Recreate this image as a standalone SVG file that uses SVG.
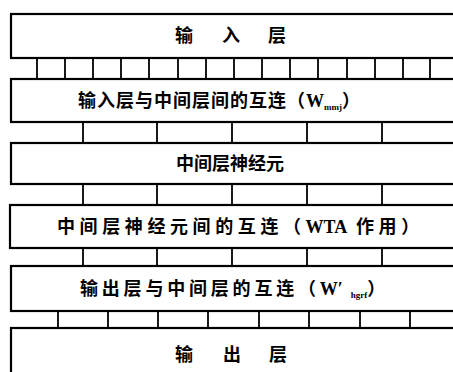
<svg xmlns="http://www.w3.org/2000/svg" width="453" height="372" viewBox="0 0 453 372">
<style>
.box{fill:#fff;stroke:#000;stroke-width:2.2}
.tick{stroke:#000;stroke-width:1.8}
.t{font-family:"Noto Sans CJK SC","Liberation Serif",sans-serif;font-weight:700;font-size:18px;fill:#000}
.w{font-family:"Liberation Serif",serif;font-weight:700;letter-spacing:0}
.sub{font-size:9px}
</style>
<rect width="453" height="372" fill="#fff"/>
<g id="connectors">
<g id="c12">
<line class="tick" x1="37" y1="58" x2="37" y2="79"/><line class="tick" x1="65" y1="58" x2="65" y2="79"/>
<line class="tick" x1="93" y1="58" x2="93" y2="79"/><line class="tick" x1="121" y1="58" x2="121" y2="79"/>
<line class="tick" x1="149" y1="58" x2="149" y2="79"/><line class="tick" x1="178" y1="58" x2="178" y2="79"/>
<line class="tick" x1="206" y1="58" x2="206" y2="79"/><line class="tick" x1="234" y1="58" x2="234" y2="79"/>
<line class="tick" x1="262" y1="58" x2="262" y2="79"/><line class="tick" x1="290" y1="58" x2="290" y2="79"/>
<line class="tick" x1="318" y1="58" x2="318" y2="79"/><line class="tick" x1="347" y1="58" x2="347" y2="79"/>
<line class="tick" x1="375" y1="58" x2="375" y2="79"/><line class="tick" x1="403" y1="58" x2="403" y2="79"/>
<line class="tick" x1="430" y1="58" x2="430" y2="79"/>
</g>
<g id="c23">
<line class="tick" x1="83" y1="122" x2="83" y2="143"/><line class="tick" x1="157" y1="122" x2="157" y2="143"/>
<line class="tick" x1="232" y1="122" x2="232" y2="143"/><line class="tick" x1="307" y1="122" x2="307" y2="143"/>
<line class="tick" x1="382" y1="122" x2="382" y2="143"/>
</g>
<g id="c34">
<line class="tick" x1="83" y1="184" x2="83" y2="205"/><line class="tick" x1="157" y1="184" x2="157" y2="205"/>
<line class="tick" x1="232" y1="184" x2="232" y2="205"/><line class="tick" x1="307" y1="184" x2="307" y2="205"/>
<line class="tick" x1="382" y1="184" x2="382" y2="205"/>
</g>
<g id="c45">
<line class="tick" x1="83" y1="248" x2="83" y2="266"/><line class="tick" x1="157" y1="248" x2="157" y2="266"/>
<line class="tick" x1="232" y1="248" x2="232" y2="266"/><line class="tick" x1="307" y1="248" x2="307" y2="266"/>
<line class="tick" x1="382" y1="248" x2="382" y2="266"/>
</g>
<g id="c56">
<line class="tick" x1="58" y1="311" x2="58" y2="328"/><line class="tick" x1="108" y1="311" x2="108" y2="328"/>
<line class="tick" x1="158" y1="311" x2="158" y2="328"/><line class="tick" x1="208" y1="311" x2="208" y2="328"/>
<line class="tick" x1="259" y1="311" x2="259" y2="328"/><line class="tick" x1="309" y1="311" x2="309" y2="328"/>
<line class="tick" x1="360" y1="311" x2="360" y2="328"/><line class="tick" x1="410" y1="311" x2="410" y2="328"/>
</g>
</g>
<g id="input-layer">
<rect class="box" x="11" y="14" width="470" height="44"/>
<text class="t" x="184 231 277" y="42" text-anchor="middle">输入层</text>
</g>
<g id="input-hidden-links">
<rect class="box" x="11" y="79" width="470" height="43"/>
<text class="t" x="78" y="107" letter-spacing="1">输入层与中间层间的互连（<tspan class="w">W</tspan><tspan class="w sub" dy="3">mmj</tspan><tspan dy="-3">）</tspan></text>
</g>
<g id="hidden-neurons">
<rect class="box" x="11" y="143" width="470" height="41"/>
<text class="t" x="230" y="170" text-anchor="middle">中间层神经元</text>
</g>
<g id="hidden-links">
<rect class="box" x="10" y="205" width="470" height="43"/>
<text class="t" x="57" y="233" letter-spacing="4.6">中间层神经元间的互连（<tspan class="w">WTA</tspan> 作用）</text>
</g>
<g id="output-hidden-links">
<rect class="box" x="11" y="266" width="470" height="45"/>
<text class="t" x="80" y="295" letter-spacing="3.8">输出层与中间层的互连（<tspan class="w">W′</tspan> <tspan class="w sub" dy="3">hgrf</tspan><tspan dy="-3">）</tspan></text>
</g>
<g id="output-layer">
<rect class="box" x="11" y="328" width="470" height="60"/>
<text class="t" x="184 232 278" y="361" text-anchor="middle">输出层</text>
</g>
</svg>
